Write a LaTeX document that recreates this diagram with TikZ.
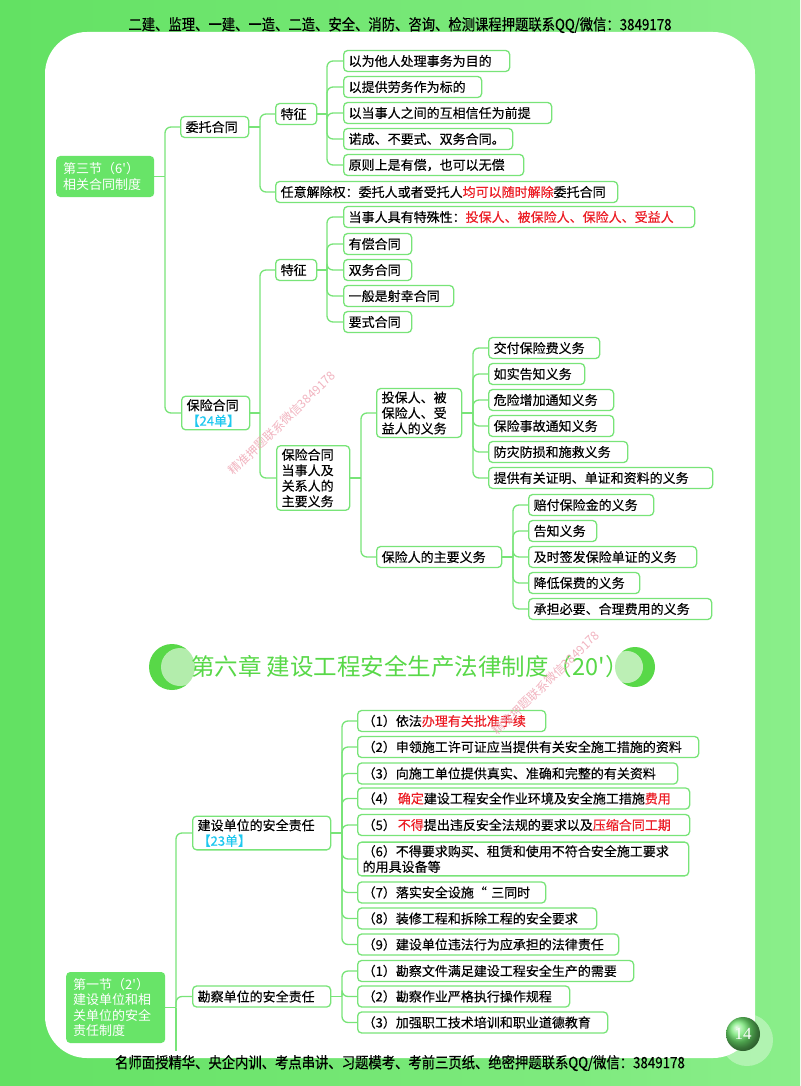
\documentclass[tikz,border=0pt]{standalone}
\usepackage{fontspec}
\newfontfamily\cjk[FakeBold=0.3]{Noto Sans CJK SC}
\newfontfamily\cjkr{Noto Sans CJK SC}
\newfontfamily\cjkc[FakeStretch=0.86,FakeBold=0.3]{Noto Sans CJK SC}
\newfontfamily\wmserif{Liberation Serif}
\definecolor{bgA}{RGB}{98,225,98}
\definecolor{bgB}{RGB}{138,238,138}
\definecolor{boxc}{RGB}{120,228,120}
\definecolor{rootc}{RGB}{104,228,104}
\definecolor{titleg}{RGB}{88,216,72}
\definecolor{cyanc}{RGB}{30,200,240}
\definecolor{redc}{RGB}{236,28,36}
\definecolor{wmpink}{RGB}{238,160,175}
\definecolor{pgn}{RGB}{110,230,110}
\tikzset{
  bx/.style={draw=boxc, line width=1.3pt, fill=white, rounded corners=4pt, inner xsep=5pt, inner ysep=3pt,
    minimum height=21pt, anchor=west, align=left, text=black, font=\cjk\fontsize{13}{15.5}\selectfont},
  rootbox/.style={fill=rootc, rounded corners=4pt, inner xsep=7pt, inner ysep=3pt, anchor=west, align=left,
    text=white, font=\cjkr\fontsize{13}{15.3}\selectfont},
  conn/.style={draw=boxc, line width=1.3pt, rounded corners=6pt},
  hdr/.style={text=black, font=\cjkc\fontsize{15.5}{16}\selectfont, inner sep=0pt},
  wmp/.style={text=wmpink, opacity=0.8, font=\cjkr\fontsize{12}{12}\selectfont, inner sep=0pt},
}
\newcommand\mmbranch[3]{%
  \draw[conn] (#1.east) -- (#1.east -| #2);
  \foreach \ch in {#3}{\draw[conn] (#1.east -| #2) |- (\ch.west);}}
\begin{document}
\begin{tikzpicture}[x=1pt,y=-1pt]
\useasboundingbox (0,0) rectangle (800,1086);
\shade[left color=bgA,right color=bgB] (0,0) rectangle (800,1086);
\fill[white, rounded corners=42pt] (45,32) rectangle (755,1058);

% header / footer
\node[hdr] (hd) at (400,25) {二建、监理、一建、一造、二造、安全、消防、咨询、检测课程押题联系QQ/微信：3849178};
\node[hdr] (ft) at (400,1063) {名师面授精华、央企内训、考点串讲、习题模考、考前三页纸、绝密押题联系QQ/微信：3849178};

% page number
\fill[white, opacity=0.35] (747,1040) circle (26pt);
\shade[ball color=pgn] (743,1034) circle (17pt);
\node[text=white, font=\wmserif\fontsize{17}{17}\selectfont, inner sep=0pt] (pg) at (743,1034) {14};

% chapter title
\fill[titleg] (172,667) circle (23pt);
\fill[white, opacity=0.55] (180,667) circle (19pt);
\fill[titleg] (635,667) circle (20pt);
\fill[white, opacity=0.6] (627,667) circle (16pt);
\node[anchor=west, text=titleg, inner sep=0pt, font=\cjkr\fontsize{23.5}{24}\selectfont] (ttl) at (191,667) {第六章 建设工程安全生产法律制度（20'）};

% junction x positions
\coordinate (J1) at (165,0);
\coordinate (J2) at (260,0);
\coordinate (J3) at (327,0);
\coordinate (J6) at (361,0);
\coordinate (J7) at (473,0);
\coordinate (J8) at (513,0);
\coordinate (J9) at (176,0);
\coordinate (J10) at (342,0);

% ---------- section 1 ----------
\node[rootbox, text width=84pt, minimum height=41pt] (r1) at (56,176.5) {第三节（6'）\\相关合同制度};
\node[bx, text width=58pt] (wt) at (180,127) {委托合同};
\node[bx, text width=31pt] (tz1) at (275,114) {特征};
\node[bx, text width=332pt] (rj) at (275,192) {任意解除权：委托人或者受托人\textcolor{redc}{均可以随时解除}委托合同};
\node[bx, text width=156pt] (a1) at (343,61) {以为他人处理事务为目的};
\node[bx, text width=128pt] (a2) at (343,87) {以提供劳务作为标的};
\node[bx, text width=198pt] (a3) at (343,113) {以当事人之间的互相信任为前提};
\node[bx, text width=159pt] (a4) at (343,139) {诺成、不要式、双务合同。};
\node[bx, text width=170pt] (a5) at (343,165) {原则上是有偿，也可以无偿};

\node[bx, text width=58pt] (bxht) at (181,413) {保险合同\\\textcolor{cyanc}{【24单】}};
\node[bx, text width=31pt] (tz2) at (275,270) {特征};
\node[bx, text width=341pt] (b1) at (343,217) {当事人具有特殊性：\textcolor{redc}{投保人、被保险人、保险人、受益人}};
\node[bx, text width=58pt] (b2) at (343,244) {有偿合同};
\node[bx, text width=58pt] (b3) at (343,270) {双务合同};
\node[bx, text width=100pt] (b4) at (343,296) {一般是射幸合同};
\node[bx, text width=58pt] (b5) at (343,322) {要式合同};

\node[bx, text width=63pt] (dsr) at (276,478) {保险合同\\当事人及\\关系人的\\主要义务};
\node[bx, text width=75pt] (tbr) at (376,413) {投保人、被\\保险人、受\\益人的义务};
\node[bx, text width=115pt] (bxr) at (376,557) {保险人的主要义务};

\node[bx, text width=101pt] (c1) at (488,348) {交付保险费义务};
\node[bx, text width=86pt] (c2) at (488,374) {如实告知义务};
\node[bx, text width=115pt] (c3) at (488,400) {危险增加通知义务};
\node[bx, text width=115pt] (c4) at (488,426) {保险事故通知义务};
\node[bx, text width=129pt] (c5) at (488,452) {防灾防损和施救义务};
\node[bx, text width=214pt] (c6) at (488,478) {提供有关证明、单证和资料的义务};

\node[bx, text width=115pt] (d1) at (528,505) {赔付保险金的义务};
\node[bx, text width=58pt] (d2) at (528,531) {告知义务};
\node[bx, text width=158pt] (d3) at (528,557) {及时签发保险单证的义务};
\node[bx, text width=101pt] (d4) at (528,583) {降低保费的义务};
\node[bx, text width=173pt] (d5) at (528,609) {承担必要、合理费用的义务};

\mmbranch{r1}{J1}{wt,bxht}
\mmbranch{wt}{J2}{tz1,rj}
\mmbranch{tz1}{J3}{a1,a2,a3,a4,a5}
\mmbranch{bxht}{J2}{tz2,dsr}
\mmbranch{tz2}{J3}{b1,b2,b3,b4,b5}
\mmbranch{dsr}{J6}{tbr,bxr}
\mmbranch{tbr}{J7}{c1,c2,c3,c4,c5,c6}
\mmbranch{bxr}{J8}{d1,d2,d3,d4,d5}

% ---------- section 2 ----------
\node[rootbox, text width=85pt, minimum height=71pt] (r2) at (66,1007.5) {第一节（2'）\\建设单位和相\\关单位的安全\\责任制度};
\node[bx, text width=128pt] (jsdw) at (192,833) {建设单位的安全责任\\\textcolor{cyanc}{【23单】}};
\node[bx, text width=128pt] (kc) at (192,996.5) {勘察单位的安全责任};

\node[bx, text width=178pt] (e1) at (357,721) {（1）依法\textcolor{redc}{办理有关批准手续}};
\node[bx, text width=331pt] (e2) at (357,747) {（2）申领施工许可证应当提供有关安全施工措施的资料};
\node[bx, text width=310pt] (e3) at (357,773.5) {（3）向施工单位提供真实、准确和完整的有关资料};
\node[bx, text width=322pt] (e4) at (357,798.5) {（4）\hspace{2pt}\textcolor{redc}{确定}建设工程安全作业环境及安全施工措施\textcolor{redc}{费用}};
\node[bx, text width=322pt] (e5) at (357,825) {（5）\hspace{2pt}\textcolor{redc}{不得}提出违反安全法规的要求以及\textcolor{redc}{压缩合同工期}};
\node[bx, text width=321pt] (e6) at (357,859) {（6）不得要求购买、租赁和使用不符合安全施工要求\\的用具设备等};
\node[bx, text width=178pt] (e7) at (357,892.5) {（7）落实安全设施“ 三同时};
\node[bx, text width=229pt] (e8) at (357,918.5) {（8）装修工程和拆除工程的安全要求};
\node[bx, text width=251pt] (e9) at (357,944.5) {（9）建设单位违法行为应承担的法律责任};

\node[bx, text width=266pt] (f1) at (357,971) {（1）勘察文件满足建设工程安全生产的需要};
\node[bx, text width=202pt] (f2) at (357,996.5) {（2）勘察作业严格执行操作规程};
\node[bx, text width=240pt] (f3) at (357,1022.5) {（3）加强职工技术培训和职业道德教育};

\mmbranch{r2}{J9}{jsdw,kc}
\coordinate (r2tail) at (176,1051);
\draw[conn] (r2.east -| J9) -- (r2tail);
\mmbranch{jsdw}{J10}{e1,e2,e3,e4,e5,e6,e7,e8,e9}
\mmbranch{kc}{J10}{f1,f2,f3}

% pink watermarks
\node[wmp, rotate=44] (wm1) at (282,423) {精准押题联系微信3849178};
\node[wmp, rotate=44] (wm2) at (546,683) {精准押题联系微信3849178};
\end{tikzpicture}
\end{document}
